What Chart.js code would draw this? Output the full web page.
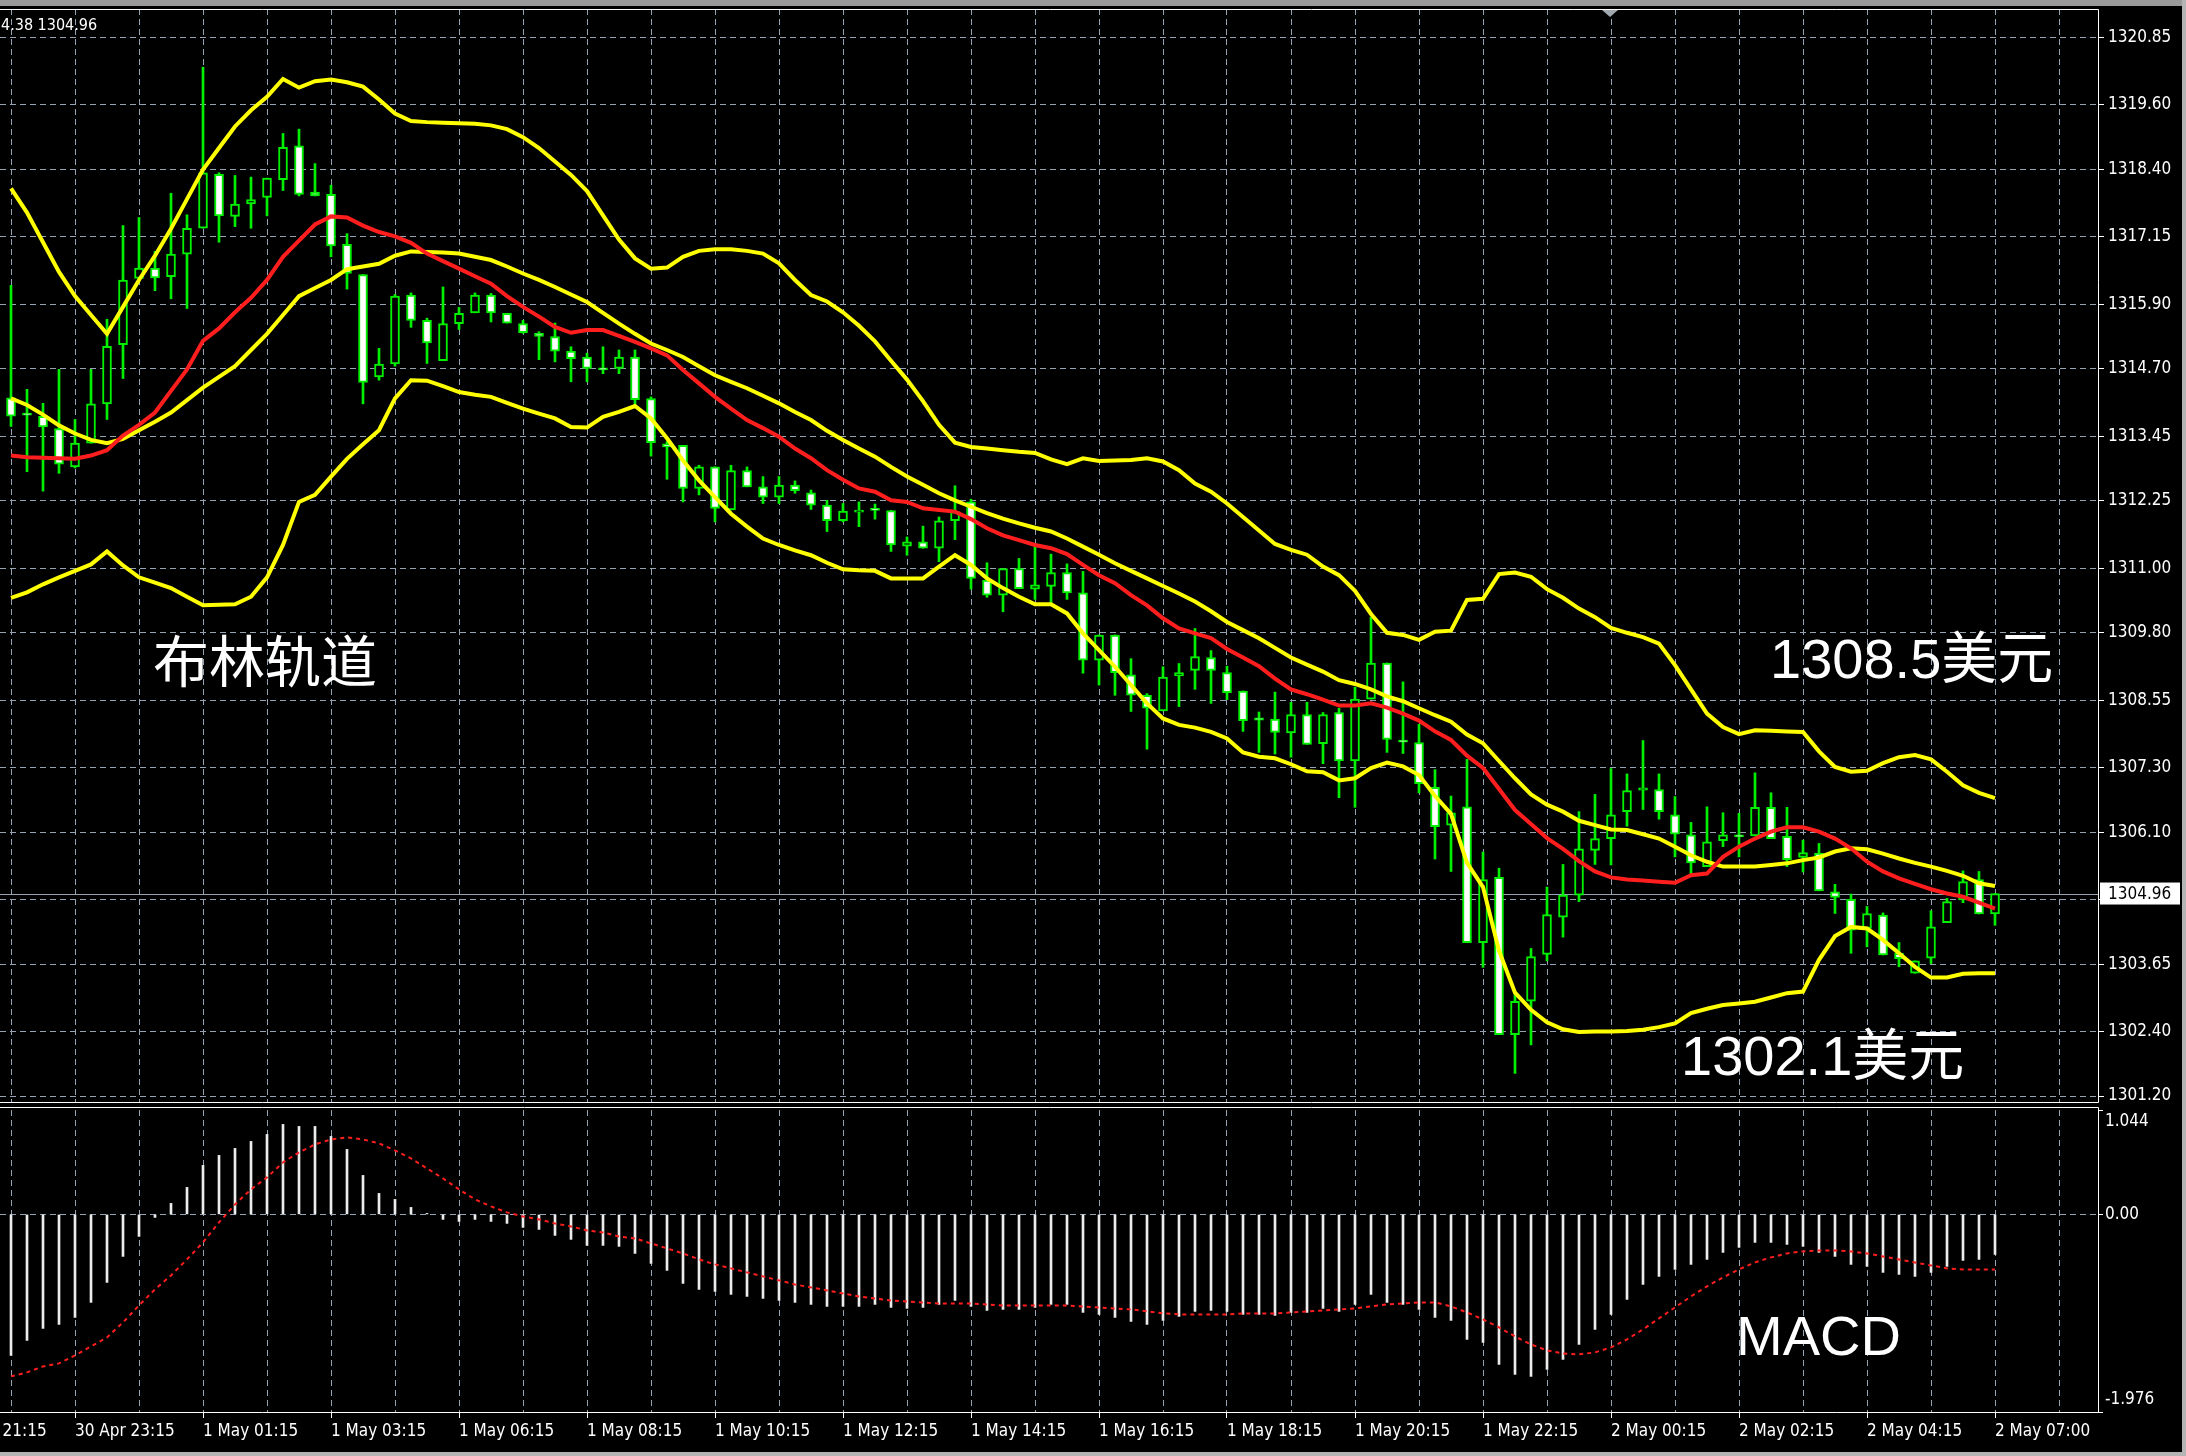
<!DOCTYPE html>
<html>
<head>
<meta charset="utf-8">
<script src="https://cdn.jsdelivr.net/npm/chart.js@4.4.0/dist/chart.umd.min.js"></script>
<style>
  html, body { margin: 0; padding: 0; background: #000; }
  #wrap { position: relative; width: 2186px; height: 1456px; background: #000; overflow: hidden; }
  #mainChart { position: absolute; left: 0; top: 0; }
  #macdChart { position: absolute; left: 0; top: 1106px; }
  #topbar { position: absolute; left: 0; top: 0; width: 2186px; height: 6px; background: #9a9a9a; }
  #rightbar { position: absolute; right: 0; top: 0; width: 4px; height: 1456px; background: #b4b4b4; }
  #bottombar { position: absolute; left: 0; bottom: 0; width: 2186px; height: 4px; background: #b4b4b4; }
</style>
</head>
<body>
<div id="wrap">
  <canvas id="mainChart" width="2186" height="1106"></canvas>
  <canvas id="macdChart" width="2186" height="350"></canvas>
  <div id="topbar"></div>
  <div id="rightbar"></div>
  <div id="bottombar"></div>
</div>
<script>
// candles, one per 15 min bar
const openP = [1314.16, 1313.88, 1313.82, 1313.59, 1312.88, 1313.32, 1314.05, 1315.15, 1316.38, 1316.57,
  1316.41, 1316.83, 1317.31, 1318.31, 1317.53, 1317.76, 1317.88, 1318.21, 1318.84, 1317.98,
  1317.94, 1317.01, 1316.45, 1314.55, 1314.79, 1316.07, 1315.60, 1314.85, 1315.54, 1315.74,
  1316.07, 1315.73, 1315.54, 1315.36, 1315.30, 1315.03, 1314.92, 1314.72, 1314.71, 1314.92,
  1314.15, 1313.31, 1313.28, 1312.48, 1312.88, 1312.08, 1312.81, 1312.51, 1312.32, 1312.54,
  1312.40, 1312.17, 1311.88, 1312.04, 1312.11, 1312.07, 1311.41, 1311.49, 1311.37, 1311.88,
  1312.23, 1310.78, 1310.50, 1310.99, 1310.61, 1310.66, 1310.92, 1310.54, 1309.29, 1309.76,
  1309.02, 1308.64, 1308.35, 1309.00, 1309.10, 1309.34, 1309.06, 1308.72, 1308.22, 1308.20,
  1307.94, 1308.28, 1307.74, 1308.32, 1307.42, 1308.57, 1309.24, 1307.81, 1307.76, 1306.93,
  1306.23, 1306.57, 1304.05, 1305.26, 1302.34, 1302.96, 1303.83, 1304.52, 1304.93, 1305.76,
  1305.98, 1306.48, 1306.88, 1306.89, 1306.42, 1306.05, 1305.46, 1305.94, 1306.05, 1306.03,
  1306.56, 1306.02, 1305.63, 1305.71, 1304.99, 1304.85, 1304.31, 1304.56, 1303.85, 1303.48,
  1303.76, 1304.42, 1304.84, 1305.22, 1304.58];
const highP = [1316.25, 1314.32, 1314.06, 1314.69, 1313.76, 1314.69, 1315.62, 1317.36, 1317.51, 1316.88,
  1317.96, 1317.56, 1320.30, 1318.34, 1318.29, 1318.26, 1318.24, 1319.07, 1319.15, 1318.51,
  1318.11, 1317.21, 1316.45, 1315.08, 1316.08, 1316.11, 1315.64, 1316.22, 1315.84, 1316.11,
  1316.10, 1315.73, 1315.60, 1315.39, 1315.55, 1315.11, 1314.99, 1315.11, 1315.05, 1315.05,
  1314.18, 1313.35, 1313.28, 1312.91, 1312.88, 1312.91, 1312.88, 1312.70, 1312.70, 1312.62,
  1312.45, 1312.26, 1312.20, 1312.23, 1312.19, 1312.07, 1311.58, 1311.78, 1311.95, 1312.53,
  1312.28, 1311.10, 1310.99, 1311.18, 1311.40, 1311.26, 1311.08, 1310.94, 1309.76, 1309.76,
  1309.32, 1308.67, 1309.17, 1309.23, 1309.88, 1309.47, 1309.18, 1308.72, 1308.33, 1308.70,
  1308.51, 1308.51, 1308.32, 1308.40, 1308.79, 1310.09, 1309.24, 1308.89, 1308.10, 1307.26,
  1306.77, 1307.45, 1305.73, 1305.43, 1303.12, 1303.94, 1305.08, 1305.50, 1306.48, 1306.80,
  1307.28, 1307.18, 1307.80, 1307.18, 1306.76, 1306.28, 1306.57, 1306.46, 1306.45, 1307.20,
  1306.83, 1306.56, 1305.95, 1305.89, 1305.13, 1304.95, 1304.72, 1304.60, 1304.05, 1303.71,
  1304.64, 1304.87, 1305.38, 1305.37, 1304.96];
const lowP = [1313.63, 1312.79, 1312.43, 1312.76, 1312.86, 1313.32, 1313.76, 1314.52, 1316.35, 1316.15,
  1316.00, 1315.82, 1317.31, 1317.05, 1317.34, 1317.31, 1317.54, 1318.01, 1317.91, 1317.91,
  1316.78, 1316.18, 1314.05, 1314.49, 1314.75, 1315.47, 1314.80, 1314.85, 1315.43, 1315.74,
  1315.57, 1315.55, 1315.36, 1314.87, 1314.83, 1314.46, 1314.46, 1314.61, 1314.61, 1314.03,
  1313.08, 1312.65, 1312.23, 1312.36, 1311.86, 1312.08, 1312.51, 1312.20, 1312.20, 1312.39,
  1312.09, 1311.68, 1311.86, 1311.77, 1311.91, 1311.31, 1311.24, 1311.37, 1311.12, 1311.53,
  1310.61, 1310.46, 1310.19, 1310.62, 1310.42, 1310.36, 1310.42, 1309.05, 1308.83, 1308.64,
  1308.34, 1307.64, 1308.35, 1308.43, 1308.75, 1308.49, 1308.56, 1307.97, 1307.58, 1307.55,
  1307.49, 1307.73, 1307.37, 1306.74, 1306.56, 1308.57, 1307.58, 1307.56, 1306.83, 1305.60,
  1305.37, 1304.05, 1303.59, 1302.34, 1301.62, 1302.15, 1303.71, 1304.15, 1304.81, 1305.50,
  1305.49, 1306.21, 1306.52, 1306.34, 1305.64, 1305.33, 1305.46, 1305.83, 1305.64, 1306.03,
  1305.98, 1305.46, 1305.36, 1305.01, 1304.59, 1303.85, 1303.97, 1303.82, 1303.60, 1303.48,
  1303.66, 1304.42, 1304.79, 1304.58, 1304.37];
const closeP = [1313.82, 1313.84, 1313.62, 1312.93, 1313.32, 1314.05, 1315.12, 1316.35, 1316.57, 1316.39,
  1316.83, 1317.31, 1318.34, 1317.54, 1317.76, 1317.84, 1318.24, 1318.81, 1317.94, 1317.91,
  1316.98, 1316.47, 1314.45, 1314.79, 1316.05, 1315.60, 1315.18, 1315.54, 1315.73, 1316.07,
  1315.74, 1315.55, 1315.37, 1315.30, 1315.03, 1314.89, 1314.71, 1314.68, 1314.92, 1314.13,
  1313.33, 1313.25, 1312.48, 1312.88, 1312.11, 1312.81, 1312.51, 1312.32, 1312.54, 1312.44,
  1312.17, 1311.88, 1312.06, 1312.08, 1312.07, 1311.43, 1311.49, 1311.37, 1311.88, 1312.05,
  1310.81, 1310.50, 1310.99, 1310.62, 1310.69, 1310.92, 1310.54, 1309.29, 1309.76, 1309.06,
  1308.64, 1308.40, 1308.98, 1309.06, 1309.36, 1309.10, 1308.69, 1308.17, 1308.18, 1307.95,
  1308.28, 1307.73, 1308.28, 1307.42, 1308.57, 1309.24, 1307.82, 1307.77, 1307.00, 1306.20,
  1306.46, 1304.05, 1305.22, 1302.34, 1302.96, 1303.79, 1304.57, 1304.93, 1305.79, 1305.98,
  1306.42, 1306.87, 1306.92, 1306.48, 1306.06, 1305.53, 1305.92, 1306.05, 1306.01, 1306.56,
  1305.98, 1305.59, 1305.72, 1305.01, 1304.89, 1304.28, 1304.59, 1303.82, 1303.75, 1303.71,
  1304.34, 1304.81, 1305.18, 1304.58, 1304.96];

// bollinger bands and moving average
const bbUpper = [1318.05, 1317.6, 1317.05, 1316.5, 1316.05, 1315.7, 1315.35, 1315.85, 1316.35, 1316.8,
  1317.3, 1317.85, 1318.4, 1318.8, 1319.2, 1319.5, 1319.75, 1320.08, 1319.92, 1320.04,
  1320.07, 1320.02, 1319.94, 1319.7, 1319.44, 1319.3, 1319.28, 1319.27, 1319.26, 1319.25,
  1319.22, 1319.15, 1319.0, 1318.8, 1318.55, 1318.3, 1318.0, 1317.55, 1317.1, 1316.75,
  1316.56, 1316.58, 1316.78, 1316.89, 1316.92, 1316.92, 1316.89, 1316.84, 1316.66, 1316.35,
  1316.07, 1315.95, 1315.75, 1315.5, 1315.21, 1314.85, 1314.5, 1314.1, 1313.66, 1313.33,
  1313.25, 1313.22, 1313.19, 1313.16, 1313.14, 1313.02, 1312.93, 1313.04, 1312.99, 1313.0,
  1313.01, 1313.04, 1312.98, 1312.82, 1312.57, 1312.42, 1312.2, 1311.95, 1311.7, 1311.45,
  1311.34, 1311.25, 1311.03, 1310.87, 1310.58, 1310.15, 1309.80, 1309.76, 1309.67, 1309.82,
  1309.84, 1310.41, 1310.43, 1310.89, 1310.92, 1310.84, 1310.61, 1310.45, 1310.25, 1310.09,
  1309.89, 1309.8, 1309.72, 1309.6, 1309.2, 1308.75, 1308.3, 1308.05, 1307.92, 1307.99,
  1307.98, 1307.97, 1307.96, 1307.6, 1307.31, 1307.22, 1307.24, 1307.38, 1307.49, 1307.53,
  1307.45, 1307.22, 1306.97, 1306.83, 1306.73];
const bbMiddle = [1314.15, 1314.03, 1313.85, 1313.65, 1313.5, 1313.38, 1313.32, 1313.4, 1313.56, 1313.72,
  1313.89, 1314.12, 1314.35, 1314.55, 1314.75, 1315.05, 1315.35, 1315.7, 1316.05, 1316.2,
  1316.35, 1316.55, 1316.6, 1316.65, 1316.8, 1316.88, 1316.87, 1316.86, 1316.84, 1316.78,
  1316.72, 1316.6, 1316.47, 1316.35, 1316.22, 1316.08, 1315.94, 1315.74, 1315.54, 1315.35,
  1315.17, 1315.05, 1314.92, 1314.75, 1314.58, 1314.46, 1314.34, 1314.2, 1314.06, 1313.9,
  1313.75, 1313.55, 1313.38, 1313.22, 1313.07, 1312.88, 1312.70, 1312.55, 1312.39, 1312.26,
  1312.14, 1312.02, 1311.92, 1311.83, 1311.75, 1311.68, 1311.55, 1311.40, 1311.25, 1311.09,
  1310.95, 1310.81, 1310.67, 1310.53, 1310.38, 1310.2, 1310.0, 1309.85, 1309.70, 1309.52,
  1309.34, 1309.21, 1309.08, 1308.92, 1308.85, 1308.75, 1308.62, 1308.53, 1308.40, 1308.27,
  1308.15, 1307.91, 1307.75, 1307.42, 1307.10, 1306.80, 1306.61, 1306.48, 1306.31, 1306.23,
  1306.15, 1306.14, 1306.06, 1305.98, 1305.83, 1305.67, 1305.55, 1305.46, 1305.46, 1305.46,
  1305.49, 1305.52, 1305.58, 1305.63, 1305.74, 1305.80, 1305.78, 1305.70, 1305.61, 1305.53,
  1305.46, 1305.38, 1305.29, 1305.15, 1305.10];
const bbLower = [1310.45, 1310.55, 1310.7, 1310.83, 1310.95, 1311.07, 1311.31, 1311.05, 1310.83, 1310.73,
  1310.63, 1310.47, 1310.31, 1310.32, 1310.33, 1310.47, 1310.83, 1311.43, 1312.23, 1312.36,
  1312.7, 1313.03, 1313.3, 1313.56, 1314.15, 1314.49, 1314.48, 1314.38, 1314.27, 1314.22,
  1314.18, 1314.07, 1313.96, 1313.87, 1313.78, 1313.62, 1313.61, 1313.81, 1313.90, 1314.01,
  1313.78, 1313.41, 1313.00, 1312.63, 1312.32, 1312.01, 1311.77, 1311.55, 1311.43, 1311.33,
  1311.24, 1311.1, 1310.98, 1310.96, 1310.95, 1310.81, 1310.81, 1310.81, 1311.03, 1311.24,
  1311.06, 1310.81, 1310.63, 1310.47, 1310.33, 1310.33, 1310.16, 1309.79, 1309.48, 1309.17,
  1308.83, 1308.49, 1308.21, 1308.09, 1308.04, 1307.96, 1307.84, 1307.58, 1307.50, 1307.47,
  1307.36, 1307.23, 1307.21, 1307.06, 1307.10, 1307.29, 1307.39, 1307.32, 1307.16, 1306.77,
  1306.44, 1305.53, 1305.08, 1303.90, 1303.12, 1302.80, 1302.57, 1302.44, 1302.39, 1302.40,
  1302.40, 1302.41, 1302.43, 1302.48, 1302.55, 1302.74, 1302.82, 1302.89, 1302.92, 1302.95,
  1303.03, 1303.11, 1303.14, 1303.73, 1304.17, 1304.34, 1304.31, 1304.10, 1303.85, 1303.60,
  1303.40, 1303.40, 1303.47, 1303.48, 1303.48];
const maRed = [1313.09, 1313.06, 1313.05, 1313.04, 1313.03, 1313.09, 1313.19, 1313.46, 1313.66, 1313.89,
  1314.29, 1314.69, 1315.22, 1315.45, 1315.75, 1316.02, 1316.35, 1316.78, 1317.08, 1317.38,
  1317.53, 1317.51, 1317.36, 1317.24, 1317.16, 1317.04, 1316.84, 1316.7, 1316.56, 1316.42,
  1316.28, 1316.05, 1315.85, 1315.67, 1315.48, 1315.37, 1315.42, 1315.42, 1315.31, 1315.20,
  1315.08, 1314.95, 1314.68, 1314.43, 1314.18, 1313.96, 1313.75, 1313.6, 1313.44, 1313.22,
  1313.04, 1312.82, 1312.64, 1312.48, 1312.42, 1312.26, 1312.23, 1312.11, 1312.08, 1312.05,
  1311.91, 1311.74, 1311.61, 1311.52, 1311.43, 1311.37, 1311.26, 1311.06, 1310.87, 1310.72,
  1310.50, 1310.31, 1310.07, 1309.88, 1309.79, 1309.70, 1309.50, 1309.34, 1309.18, 1308.95,
  1308.75, 1308.66, 1308.56, 1308.45, 1308.45, 1308.49, 1308.41, 1308.30, 1308.17, 1307.97,
  1307.81, 1307.52, 1307.29, 1306.90, 1306.51, 1306.25, 1305.99, 1305.79, 1305.56, 1305.37,
  1305.26, 1305.22, 1305.2, 1305.18, 1305.16, 1305.30, 1305.33, 1305.64, 1305.83, 1305.98,
  1306.11, 1306.19, 1306.19, 1306.11, 1305.98, 1305.80, 1305.55, 1305.37, 1305.24, 1305.14,
  1305.04, 1304.96, 1304.90, 1304.79, 1304.68];

// MACD panel
const macdMain = [-1.41, -1.26, -1.14, -1.10, -1.03, -0.88, -0.68, -0.42, -0.22, -0.03,
  0.11, 0.27, 0.49, 0.59, 0.66, 0.73, 0.80, 0.90, 0.88, 0.88,
  0.78, 0.65, 0.39, 0.21, 0.15, 0.07, 0.01, -0.05, -0.07, -0.05,
  -0.07, -0.09, -0.13, -0.15, -0.21, -0.25, -0.31, -0.31, -0.32, -0.39,
  -0.49, -0.56, -0.69, -0.75, -0.77, -0.80, -0.82, -0.84, -0.86, -0.88,
  -0.90, -0.92, -0.92, -0.92, -0.90, -0.93, -0.94, -0.93, -0.90, -0.86,
  -0.92, -0.96, -0.95, -0.95, -0.93, -0.90, -0.90, -0.98, -1.00, -1.03,
  -1.07, -1.10, -1.06, -1.02, -0.97, -0.96, -0.97, -1.00, -1.00, -1.01,
  -0.98, -0.98, -0.94, -0.97, -0.90, -0.80, -0.88, -0.90, -0.95, -1.03,
  -1.06, -1.25, -1.28, -1.50, -1.60, -1.62, -1.55, -1.45, -1.30, -1.15,
  -1.00, -0.85, -0.70, -0.62, -0.55, -0.50, -0.45, -0.38, -0.33, -0.28,
  -0.28, -0.30, -0.32, -0.38, -0.42, -0.50, -0.52, -0.58, -0.60, -0.62,
  -0.58, -0.52, -0.46, -0.45, -0.40];
const macdSignal = [-1.62, -1.58, -1.52, -1.49, -1.41, -1.32, -1.23, -1.08, -0.91, -0.75,
  -0.61, -0.45, -0.28, -0.08, 0.10, 0.25, 0.37, 0.52, 0.62, 0.70,
  0.75, 0.77, 0.75, 0.71, 0.64, 0.56, 0.46, 0.36, 0.25, 0.15,
  0.08, 0.02, -0.02, -0.05, -0.09, -0.12, -0.16, -0.18, -0.22, -0.24,
  -0.29, -0.34, -0.39, -0.45, -0.50, -0.54, -0.58, -0.62, -0.66, -0.70,
  -0.73, -0.76, -0.79, -0.82, -0.84, -0.86, -0.87, -0.88, -0.89, -0.89,
  -0.89, -0.90, -0.91, -0.91, -0.91, -0.91, -0.91, -0.92, -0.93, -0.94,
  -0.95, -0.97, -0.99, -1.00, -1.00, -1.00, -1.00, -0.99, -0.99, -0.99,
  -0.98, -0.97, -0.96, -0.95, -0.94, -0.92, -0.90, -0.89, -0.88, -0.88,
  -0.92, -0.98, -1.05, -1.13, -1.22, -1.30, -1.36, -1.39, -1.40, -1.38,
  -1.33, -1.25, -1.15, -1.04, -0.93, -0.82, -0.72, -0.63, -0.55, -0.48,
  -0.43, -0.39, -0.37, -0.36, -0.36, -0.37, -0.39, -0.42, -0.45, -0.48,
  -0.51, -0.54, -0.55, -0.55, -0.55];

// axis ticks
const priceTicks = [1320.85, 1319.60, 1318.40, 1317.15, 1315.90, 1314.70, 1313.45, 1312.25, 1311.00,
  1309.80, 1308.55, 1307.30, 1306.10, 1304.85, 1303.65, 1302.40, 1301.20];
const macdTicks = [1.044, 0, -1.976];
const macdTickLabels = ['1.044', '0.00', '-1.976'];
const timeTickBars = [-4, 4, 12, 20, 28, 36, 44, 52, 60, 68, 76, 84, 92, 100, 108, 116, 124];
const timeLabels = ['30 Apr 21:15', '30 Apr 23:15', '1 May 01:15', '1 May 03:15', '1 May 06:15', '1 May 08:15',
  '1 May 10:15', '1 May 12:15', '1 May 14:15', '1 May 16:15', '1 May 18:15', '1 May 20:15',
  '1 May 22:15', '2 May 00:15', '2 May 02:15', '2 May 04:15', '2 May 07:00'];
const lastPrice = 1304.96;
const headerText = '4.38 1304.96';

// layout
const PLOT_RIGHT = 2098;
const BAR_STEP = 16;
const FIRST_X = 11;
const xMin = -FIRST_X / BAR_STEP;
const xMax = (PLOT_RIGHT - FIRST_X) / BAR_STEP;
const gridBars = [];
for (let b = 0; b <= 128; b += 4) gridBars.push(b);

const green = '#00f000';
const yellow = '#ffff00';
const red = '#ff1e1e';
const gridColor = '#95a3b2';
const tickFamily = '"DejaVu Sans Condensed", "DejaVu Sans", sans-serif';
const tickFont = { family: tickFamily, size: 17 };
const bars = openP.map((_, i) => i);

const bandLine = (arr, color, order) => ({
    type: 'line',
    data: bars.map(i => ({ x: i, y: arr[i] })),
    borderColor: color,
    borderWidth: 4,
    pointRadius: 0,
    tension: 0,
    order: order
});

const mainDecor = {
    id: 'mainDecor',
    beforeDatasetsDraw(chart) {
        const { ctx, chartArea: a, scales: { y } } = chart;
        const py = Math.round(y.getPixelForValue(lastPrice)) + 0.5;
        ctx.save();
        ctx.strokeStyle = gridColor;
        ctx.lineWidth = 1;
        ctx.beginPath();
        ctx.moveTo(a.left, py);
        ctx.lineTo(a.right, py);
        ctx.stroke();
        ctx.restore();
    },
    afterDraw(chart) {
        const { ctx, chartArea: a, scales: { y } } = chart;
        ctx.save();
        // panel frame
        ctx.strokeStyle = '#ffffff';
        ctx.lineWidth = 1;
        ctx.beginPath();
        ctx.moveTo(0, a.top + 0.5);
        ctx.lineTo(a.right + 0.5, a.top + 0.5);
        ctx.lineTo(a.right + 0.5, a.bottom + 0.5);
        ctx.lineTo(0, a.bottom + 0.5);
        ctx.stroke();
        // chart shift marker
        ctx.fillStyle = '#a0a8b0';
        ctx.beginPath();
        ctx.moveTo(1602, a.top + 1);
        ctx.lineTo(1618, a.top + 1);
        ctx.lineTo(1610, a.top + 8);
        ctx.closePath();
        ctx.fill();
        // last price box
        const py = y.getPixelForValue(lastPrice);
        ctx.fillStyle = '#ffffff';
        ctx.fillRect(a.right + 2, py - 11, 80, 22);
        ctx.fillStyle = '#000000';
        ctx.font = '17px ' + tickFamily;
        ctx.textBaseline = 'middle';
        ctx.textAlign = 'left';
        ctx.fillText(lastPrice.toFixed(2), a.right + 10, py + 1);
        // header
        ctx.fillStyle = '#ffffff';
        ctx.font = '16px ' + tickFamily;
        ctx.fillText(headerText, 1, 26);
        // notes
        ctx.font = '56px "Noto Sans CJK SC", sans-serif';
        ctx.fillText('布林轨道', 153, 661);
        ctx.font = '56px "Liberation Sans", "Noto Sans CJK SC", sans-serif';
        ctx.fillText('1308.5美元', 1770, 663);
        ctx.fillText('1302.1美元', 1681, 1060);
        ctx.restore();
    }
};

const macdDecor = {
    id: 'macdDecor',
    afterDraw(chart) {
        const { ctx, chartArea: a, scales: { y } } = chart;
        ctx.save();
        ctx.strokeStyle = '#ffffff';
        ctx.lineWidth = 1;
        ctx.beginPath();
        ctx.moveTo(0, 1.5);
        ctx.lineTo(a.right + 0.5, 1.5);
        ctx.lineTo(a.right + 0.5, a.bottom + 0.5);
        ctx.lineTo(0, a.bottom + 0.5);
        ctx.stroke();
        ctx.fillStyle = '#ffffff';
        ctx.font = '17px ' + tickFamily;
        ctx.textBaseline = 'middle';
        ctx.textAlign = 'left';
        ctx.fillText(macdTickLabels[0], a.right + 7, a.top + 12);
        ctx.fillText(macdTickLabels[1], a.right + 7, y.getPixelForValue(macdTicks[1]));
        ctx.fillText(macdTickLabels[2], a.right + 7, a.bottom - 12);
        ctx.font = '56px "Liberation Sans", sans-serif';
        ctx.fillText('MACD', 1736, 234);
        ctx.restore();
    }
};

// Price chart
const mainChart = new Chart(document.getElementById('mainChart'), {
    type: 'bar',
    data: {
        datasets: [
            bandLine(maRed, red, 0),
            bandLine(bbUpper, yellow, 1),
            bandLine(bbMiddle, yellow, 1),
            bandLine(bbLower, yellow, 1),
            {
                type: 'bar',
                data: bars.map(i => ({ x: i, y: [openP[i], closeP[i]] })),
                backgroundColor: bars.map(i => closeP[i] < openP[i] ? '#ffffff' : '#000000'),
                borderColor: green,
                borderWidth: 2,
                borderSkipped: false,
                barThickness: 9,
                grouped: false,
                order: 2
            },
            {
                type: 'bar',
                data: bars.map(i => ({ x: i, y: [lowP[i], highP[i]] })),
                backgroundColor: green,
                borderWidth: 0,
                barThickness: 2,
                grouped: false,
                order: 3
            }
        ]
    },
    options: {
        responsive: false,
        animation: false,
        events: [],
        layout: { padding: { top: 9, left: 0, right: 0, bottom: 0 } },
        plugins: { legend: { display: false }, tooltip: { enabled: false } },
        scales: {
            x: {
                type: 'linear',
                min: xMin,
                max: xMax,
                offset: false,
                afterBuildTicks: s => { s.ticks = gridBars.map(v => ({ value: v })); },
                afterFit: s => { s.height = 4; s.paddingLeft = 0; s.paddingRight = 0; },
                ticks: { display: false },
                grid: { color: gridColor, drawTicks: false, offset: false },
                border: { display: false, dash: [6, 4] }
            },
            y: {
                type: 'linear',
                position: 'right',
                min: 1301.09,
                max: 1321.38,
                afterBuildTicks: s => { s.ticks = priceTicks.map(v => ({ value: v })); },
                afterFit: s => { s.width = 2186 - PLOT_RIGHT; s.paddingTop = 0; s.paddingBottom = 0; },
                ticks: { color: '#ffffff', font: tickFont, padding: 4, callback: v => v.toFixed(2) },
                grid: { color: gridColor, tickColor: '#ffffff', tickLength: 6, tickBorderDash: [] },
                border: { display: false, dash: [6, 4] }
            }
        }
    },
    plugins: [mainDecor]
});

// MACD chart
const macdChart = new Chart(document.getElementById('macdChart'), {
    type: 'bar',
    data: {
        datasets: [
            {
                type: 'line',
                data: bars.map(i => ({ x: i, y: macdSignal[i] })),
                borderColor: red,
                borderWidth: 2,
                borderDash: [4, 4],
                pointRadius: 0,
                tension: 0,
                order: 0
            },
            {
                type: 'bar',
                data: bars.map(i => ({ x: i, y: macdMain[i] })),
                backgroundColor: '#ececec',
                borderWidth: 0,
                barThickness: 2,
                grouped: false,
                order: 1
            }
        ]
    },
    options: {
        responsive: false,
        animation: false,
        events: [],
        layout: { padding: { top: 4, left: 0, right: 0, bottom: 0 } },
        plugins: { legend: { display: false }, tooltip: { enabled: false } },
        scales: {
            x: {
                type: 'linear',
                min: xMin,
                max: xMax,
                offset: false,
                afterBuildTicks: s => { s.ticks = [-4].concat(gridBars).map(v => ({ value: v })); },
                afterFit: s => { s.height = 44; s.paddingLeft = 0; s.paddingRight = 0; },
                ticks: {
                    autoSkip: false,
                    maxRotation: 0,
                    minRotation: 0,
                    align: 'start',
                    color: '#ffffff',
                    font: tickFont,
                    padding: 3,
                    callback: v => {
                        const k = timeTickBars.indexOf(v);
                        return k < 0 ? '' : timeLabels[k];
                    }
                },
                grid: {
                    color: gridColor,
                    offset: false,
                    tickLength: 6,
                    tickBorderDash: [],
                    tickColor: ctx => (ctx.tick && timeTickBars.includes(ctx.tick.value)) ? '#ffffff' : 'rgba(0,0,0,0)'
                },
                border: { display: false, dash: [6, 4] }
            },
            y: {
                type: 'linear',
                position: 'right',
                min: -1.976,
                max: 1.044,
                afterBuildTicks: s => { s.ticks = macdTicks.map(v => ({ value: v })); },
                afterFit: s => { s.width = 2186 - PLOT_RIGHT; s.paddingTop = 0; s.paddingBottom = 0; },
                ticks: { display: false },
                grid: {
                    color: ctx => (ctx.tick && ctx.tick.value === 0) ? gridColor : 'rgba(0,0,0,0)',
                    tickColor: '#ffffff',
                    tickLength: 5,
                    tickBorderDash: []
                },
                border: { display: false, dash: [6, 4] }
            }
        }
    },
    plugins: [macdDecor]
});
</script>
</body>
</html>
